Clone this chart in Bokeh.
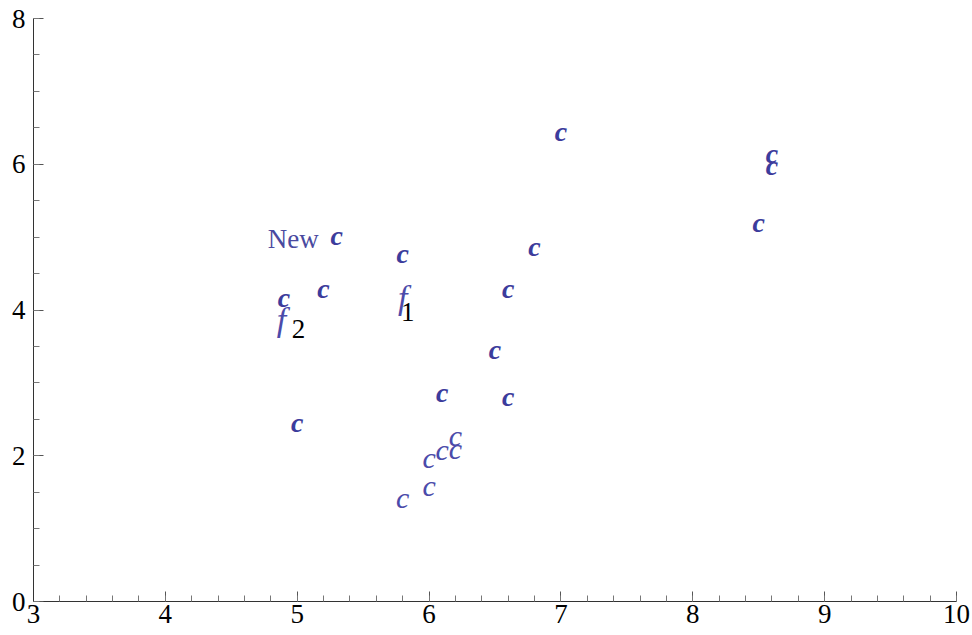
from bokeh.plotting import figure
from bokeh.models import ColumnDataSource, FixedTicker, Range1d
from bokeh.core.properties import value
from bokeh.embed import file_html
from bokeh.resources import INLINE

# --- data -------------------------------------------------------------
bold_x = [5.3, 5.8, 5.2, 4.9, 7.0, 6.8, 6.6, 6.5, 6.1, 6.6, 5.0, 8.5, 8.6, 8.6]
bold_y = [5.0, 4.75, 4.27, 4.15, 6.42, 4.85, 4.27, 3.43, 2.84, 2.78, 2.43, 5.17, 6.12, 5.95]

light_x = [5.8, 6.0, 6.0, 6.1, 6.2, 6.2]
light_y = [1.38, 1.55, 1.94, 2.05, 2.06, 2.23]

new_x = [4.97]
new_y = [4.98]
new_text = ["New"]

f_x = [5.80, 4.88]
f_y = [4.16, 3.85]
f_sub = ["1", "2"]

x_ticks = [3, 4, 5, 6, 7, 8, 9, 10]
y_ticks = [0, 2, 4, 6, 8]
x_minor = [3 + 0.2 * i for i in range(36)]
y_minor = [0.5 * i for i in range(17)]

BLUE = "#3c3c9c"
LIGHT = "#4b4baa"
SERIF = "Liberation Serif"

p = figure(width=972, height=635, output_backend="svg", toolbar_location=None,
           x_range=Range1d(3, 10), y_range=Range1d(0, 8),
           min_border_left=33, min_border_right=16, min_border_top=18,
           min_border_bottom=34, outline_line_color=None)
p.grid.visible = False

for ax in (p.xaxis[0], p.yaxis[0]):
    ax.major_tick_in = 10
    ax.major_tick_out = 0
    ax.minor_tick_in = 6
    ax.minor_tick_out = 0
    ax.axis_line_color = "#333333"
    ax.major_tick_line_color = "#555555"
    ax.minor_tick_line_color = "#777777"
    ax.major_label_text_font = SERIF
    ax.major_label_text_font_size = "27px"
    ax.major_label_text_color = "black"

p.xaxis[0].ticker = FixedTicker(ticks=x_ticks, minor_ticks=x_minor)
p.yaxis[0].ticker = FixedTicker(ticks=y_ticks, minor_ticks=y_minor)
p.xaxis[0].major_label_standoff = 3
p.yaxis[0].major_label_standoff = 8

bold_src = ColumnDataSource(dict(x=bold_x, y=bold_y, t=["c"] * len(bold_x)))
p.text(x="x", y="y", text="t", source=bold_src, text_font=value(SERIF),
       text_font_style="bold italic", text_font_size="28px", text_color=BLUE,
       text_align="center", text_baseline="middle", y_offset=-2)

light_src = ColumnDataSource(dict(x=light_x, y=light_y, t=["c"] * len(light_x)))
p.text(x="x", y="y", text="t", source=light_src, text_font=value(SERIF),
       text_font_style="italic", text_font_size="30px", text_color=LIGHT,
       text_align="center", text_baseline="middle", y_offset=-3)

new_src = ColumnDataSource(dict(x=new_x, y=new_y, t=new_text))
p.text(x="x", y="y", text="t", source=new_src, text_font=value(SERIF),
       text_font_size="27px", text_color="#4a4aa0",
       text_align="center", text_baseline="middle")

f_src = ColumnDataSource(dict(x=f_x, y=f_y, t=["f"] * len(f_x), s=f_sub,
                              dx=[5, 17], dy=[14, 8]))
p.text(x="x", y="y", text="t", source=f_src, text_font=value(SERIF),
       text_font_style="italic", text_font_size="34px", text_color=LIGHT,
       text_align="center", text_baseline="middle", y_offset=-1)
p.text(x="x", y="y", text="s", source=f_src, text_font=value(SERIF),
       text_font_size="27px", text_color="black",
       text_align="center", text_baseline="middle", x_offset="dx", y_offset="dy")

open("out.html", "w").write(file_html(p, INLINE))
